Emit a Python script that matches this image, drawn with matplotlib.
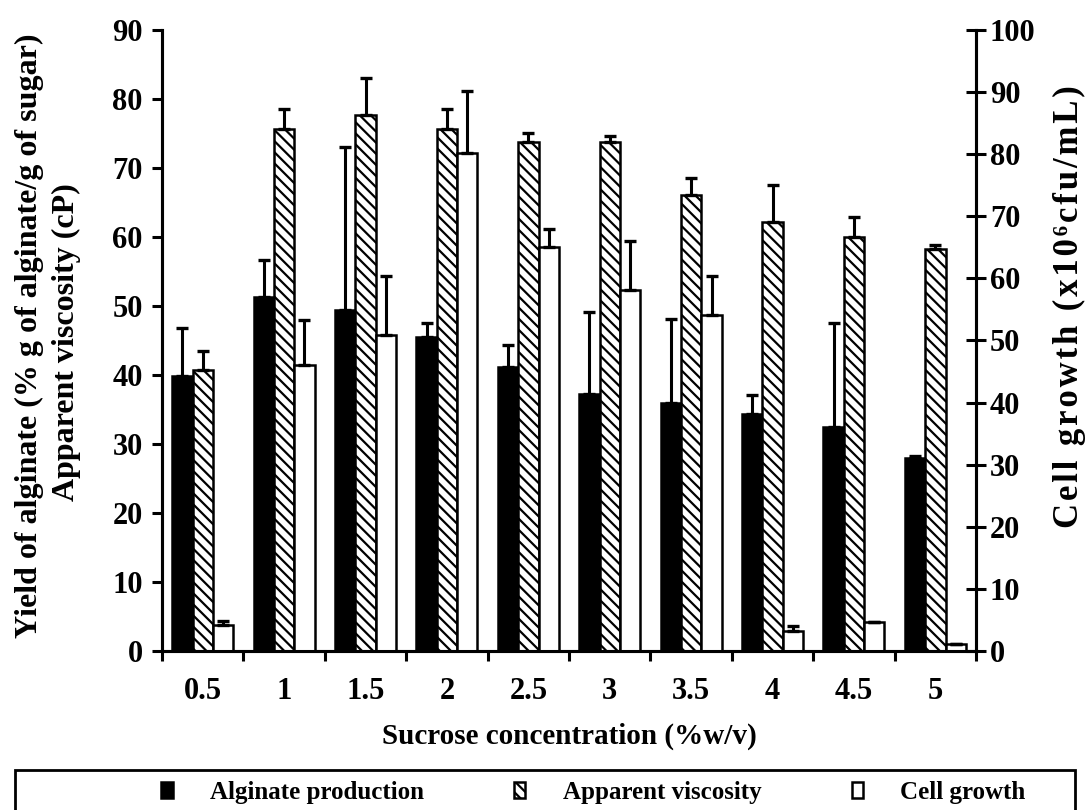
import matplotlib
matplotlib.use('Agg')
import matplotlib.pyplot as plt
from matplotlib.patches import Rectangle
import numpy as np

plt.rcParams['font.family'] = ['Liberation Serif', 'DejaVu Serif']
plt.rcParams['font.weight'] = 'bold'
plt.rcParams['hatch.linewidth'] = 1.6

# Data
sucrose = ['0.5', '1', '1.5', '2', '2.5', '3', '3.5', '4', '4.5', '5']
alginate = [39.9, 51.3, 49.4, 45.5, 41.1, 37.2, 36.0, 34.3, 32.4, 27.9]
alginate_err = [6.9, 5.4, 23.6, 2.1, 3.2, 11.9, 12.1, 2.8, 15.2, 0.3]
viscosity = [40.7, 75.7, 77.7, 75.7, 73.7, 73.7, 66.1, 62.1, 60.0, 58.2]
viscosity_err = [2.8, 2.8, 5.3, 2.8, 1.3, 1.0, 2.5, 5.5, 2.9, 0.6]
cell_growth = [4.2, 46.1, 50.9, 80.2, 65.1, 58.1, 54.1, 3.3, 4.6, 1.1]
cell_growth_err = [0.7, 7.2, 9.5, 9.9, 2.8, 7.9, 6.3, 0.7, 0.0, 0.0]

x = np.arange(len(sucrose))
w = 0.25
lw = 1.8
err_kw = dict(elinewidth=2.2, capsize=4, capthick=2.4, ecolor='black')

fig = plt.figure(figsize=(10.89, 8.10), dpi=100)
ax = fig.add_axes([0.1488, 0.1963, 0.7475, 0.7667])
ax2 = ax.twinx()

zeros = np.zeros(len(x))
ax.bar(x - w, alginate, w, color='black', edgecolor='black', linewidth=lw,
       yerr=[zeros, alginate_err], error_kw=err_kw, label='Alginate production')
ax.bar(x, viscosity, w, color='white', edgecolor='black', linewidth=lw, hatch='\\\\\\',
       yerr=[zeros, viscosity_err], error_kw=err_kw, label='Apparent viscosity')
ax2.bar(x + w, cell_growth, w, color='white', edgecolor='black', linewidth=lw,
        yerr=[zeros, cell_growth_err], error_kw=err_kw, label='Cell growth')

ax.set_xlim(-0.5, len(x) - 0.5)
ax.set_ylim(0, 90)
ax2.set_ylim(0, 100)
ax.set_yticks(np.arange(0, 91, 10))
ax2.set_yticks(np.arange(0, 101, 10))
ax.set_xticks(x)
ax.set_xticklabels(sucrose)
ax.set_xticks(np.arange(-0.5, len(x), 1), minor=True)

for a in (ax, ax2):
    a.spines['top'].set_visible(False)
    for s in a.spines.values():
        s.set_linewidth(2.2)
ax.tick_params(axis='y', direction='out', length=7, width=2.2, labelsize=22, pad=7)
ax.tick_params(axis='x', which='major', length=0, labelsize=22, pad=19)
ax.tick_params(axis='x', which='minor', direction='out', length=7, width=2.2)
ax2.tick_params(axis='y', direction='inout', length=14, width=2.2, labelsize=22, pad=3)

ax.set_xlabel('Sucrose concentration (%w/v)', fontsize=21, fontweight='bold', labelpad=12)
fig.text(0.027, 0.586, 'Yield of alginate (% g of alginate/g of sugar)', rotation=90,
         ha='center', va='center', fontsize=23, fontweight='bold')
fig.text(0.061, 0.578, 'Apparent viscosity (cP)', rotation=90,
         ha='center', va='center', fontsize=23, fontweight='bold')
right_label = '\u200a'.join('Cell growth (x10\u2076cfu/mL)')
fig.text(0.982, 0.622, right_label, rotation=90,
         ha='center', va='center', fontsize=25, fontweight='bold')

# legend box along the bottom edge
fig.patches.append(Rectangle((0.014, -0.05), 0.973, 0.099, transform=fig.transFigure,
                             fill=False, edgecolor='black', linewidth=2.0))
h1, l1 = ax.get_legend_handles_labels()
h2, l2 = ax2.get_legend_handles_labels()
leg = fig.legend(h1 + h2, l1 + l2, loc='center', ncol=3,
                 bbox_to_anchor=(0.545, 0.022), fontsize=18, frameon=False,
                 handlelength=0.45, handleheight=0.6, handletextpad=1.5,
                 columnspacing=3.6)

fig.savefig('out.png', dpi=100)
